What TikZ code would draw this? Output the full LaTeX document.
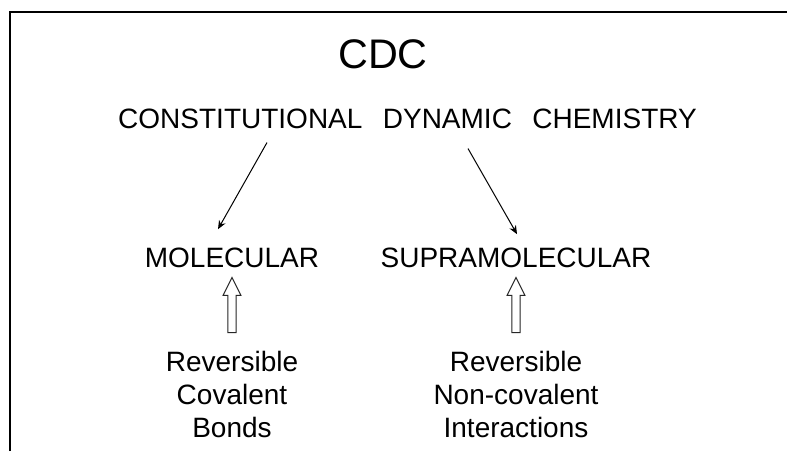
\documentclass[tikz,border=0pt]{standalone}
\usepackage{fontspec}
\setmainfont{Liberation Sans}
\usetikzlibrary{calc,arrows.meta,shapes.arrows}
\tikzset{
  lbl/.style={inner sep=0pt, font=\fontsize{21}{24.75}\selectfont},
  thinarrow/.style={line width=0.75pt, -{Stealth[length=6.5pt,width=5.5pt]}},
  hollowup/.style={single arrow, draw=black!85, line width=0.75pt, fill=white,
    shape border rotate=90, inner sep=2.8pt, minimum height=41.25pt,
    single arrow head extend=3.5pt,
    single arrow tip angle=53, single arrow head indent=0pt}
}
\begin{document}
\begin{tikzpicture}[x=0.75pt,y=-0.75pt] % CDC scheme
  \useasboundingbox (0,0) rectangle (787,451);
  \draw[line width=1.5pt] (9.5,451) -- (9.5,12) -- (787,12);
  \node[lbl, anchor=base, font=\fontsize{31}{36}\selectfont] (cdc) at (383,68) {CDC};
  \node[lbl, anchor=base] (cdchem) at (407.5,128) {CONSTITUTIONAL\hspace{15.3pt}DYNAMIC\hspace{15.3pt}CHEMISTRY};
  \node[lbl, anchor=base] (mol) at (232,267) {MOLECULAR};
  \node[lbl, anchor=base] (supra) at (516,267) {SUPRAMOLECULAR};
  \node[lbl, anchor=north, align=center] (covl) at (232,351) {Reversible\\Covalent\\Bonds};
  \node[lbl, anchor=north, align=center] (noncovl) at (516,351) {Reversible\\Non-covalent\\Interactions};
  \draw[thinarrow] ($(cdchem.south)+(-140.5,14)$) -- ($(mol.north)+(-14,-18)$);
  \draw[thinarrow] ($(cdchem.south)+(60.5,20)$) -- ($(supra.north)+(1,-13)$);
  \node[hollowup] (upmol) at ($(mol.south)!.5!(covl.north)$) {};
  \node[hollowup] (upsupra) at ($(supra.south)!.5!(noncovl.north)$) {};
\end{tikzpicture}
\end{document}
